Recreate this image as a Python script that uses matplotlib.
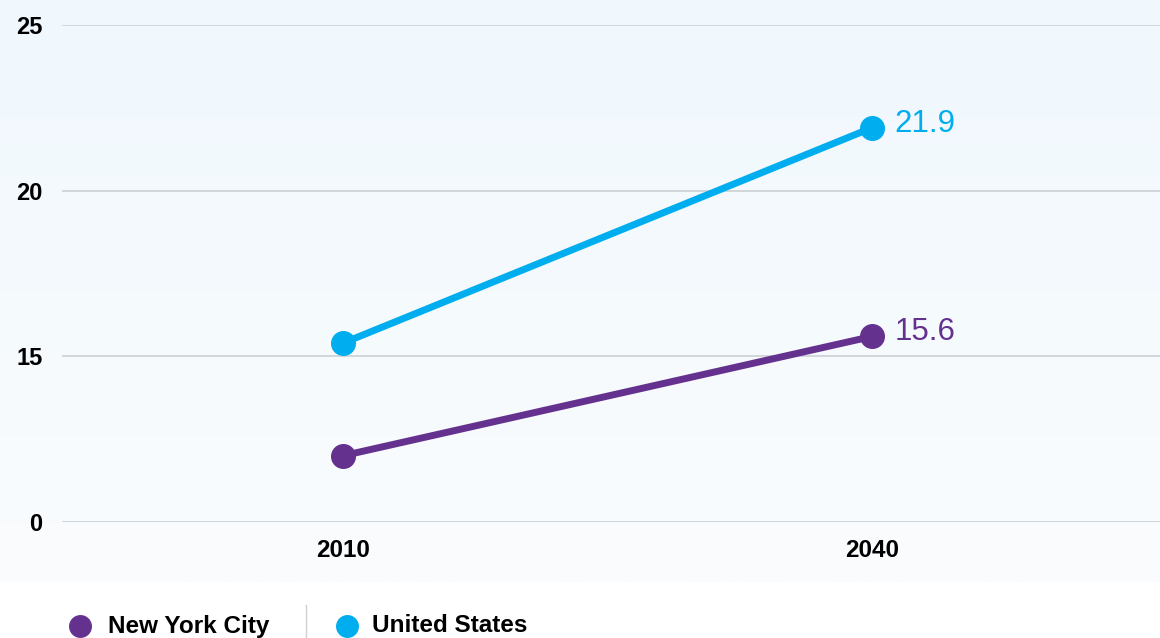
import numpy as np
import matplotlib
matplotlib.use("Agg")
import matplotlib.pyplot as plt
from matplotlib.lines import Line2D

plt.rcParams['font.family'] = ['Liberation Sans', 'DejaVu Sans']

years = ["2010", "2040"]
nyc = [12.0, 15.6]
us = [15.4, 21.9]
series_names = ["New York City", "United States"]
colors = ["#65318e", "#00aeef"]
ytick_vals = [10, 15, 20, 25]
ytick_labels = ["0", "15", "20", "25"]

W, H = 1160, 638
fig = plt.figure(figsize=(W / 100, H / 100), dpi=100)

# background gradient
bg = fig.add_axes([0, 0, 1, 1], zorder=-10)
grad = np.linspace(0, 1, 256).reshape(-1, 1)
top = np.array([240, 248, 253]) / 255
bot = np.array([250, 252, 254]) / 255
img = top[None, None, :] * (1 - grad[:, :, None]) + bot[None, None, :] * grad[:, :, None]
cut = 582 / H
bg.imshow(img, extent=[0, 1, 1 - cut, 1], aspect='auto')
bg.set_xlim(0, 1)
bg.set_ylim(0, 1)
bg.axis('off')

ax = fig.add_axes([62 / W, (H - 522) / H, (W - 62) / W, (522 - 25) / H])
ax.patch.set_alpha(0)
x = np.arange(len(years))
for vals, c in [(nyc, colors[0]), (us, colors[1])]:
    ax.plot(x, vals, color=c, lw=5, marker='o', ms=17, solid_capstyle='round', zorder=3, clip_on=False)
    ax.annotate(f"{vals[-1]}", (x[-1], vals[-1]), xytext=(16, 3), textcoords='offset points',
                va='center', ha='left', fontsize=22.5, color=c)

ax.set_xlim(-0.531, 1.544)
ax.set_ylim(10, 25)
ax.set_yticks(ytick_vals)
ax.set_yticklabels(ytick_labels, fontsize=17, fontweight='bold')
ax.set_xticks(x)
ax.set_xticklabels(years, fontsize=17.5, fontweight='bold')
ax.tick_params(length=0)
ax.tick_params(axis='y', pad=14)
ax.tick_params(axis='x', pad=12)
ax.grid(axis='y', color='#cfd4d8', lw=1.3)
ax.set_axisbelow(True)
for s in ax.spines.values():
    s.set_visible(False)

# legend
ly = 1 - 626 / H
fig.add_artist(Line2D([80 / W], [ly], marker='o', ms=15.5, color=colors[0], lw=0))
fig.text(108 / W, ly, series_names[0], fontsize=17.5, fontweight='bold', va='center', ha='left')
fig.add_artist(Line2D([306 / W, 306 / W], [1 - 605 / H, 0], color='#d0d0d0', lw=1))
fig.add_artist(Line2D([347 / W], [ly], marker='o', ms=15.5, color=colors[1], lw=0))
fig.text(372 / W, ly, series_names[1], fontsize=17.5, fontweight='bold', va='center', ha='left')

fig.savefig("out.png", dpi=100)
